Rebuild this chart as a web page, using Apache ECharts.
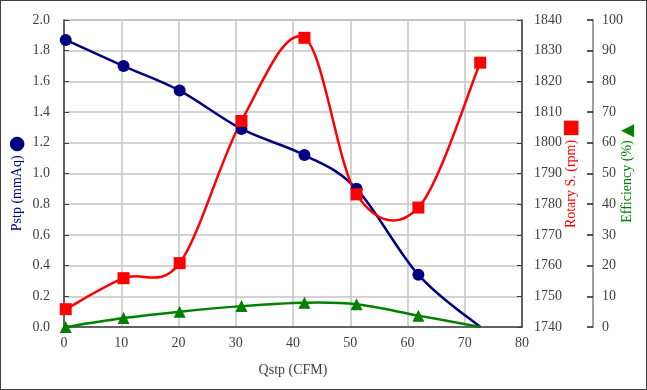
<!DOCTYPE html>
<html><head><meta charset="utf-8">
<script src="https://cdn.jsdelivr.net/npm/echarts@6/dist/echarts.min.js"></script>
<style>
html,body{margin:0;padding:0;background:#fff}
#wrap{position:relative;width:647px;height:390px}
#chart{width:647px;height:390px}
#frame{position:absolute;left:0;top:0;width:647px;height:390px;box-sizing:border-box;border:1px solid #404040;pointer-events:none}
</style>
</head><body>
<div id="wrap"><div id="chart"></div><div id="frame"></div></div>
<script>
// Data
const flowCFM    = [0.3, 10.4, 20.2, 31.0, 42.0, 51.1, 61.9, 72.7];
const pstp       = [1.87, 1.70, 1.54, 1.29, 1.12, 0.90, 0.34, 0.00];
const rpm        = [1745.8, 1755.9, 1760.8, 1807.1, 1834.2, 1783.2, 1778.9, 1826.1];
const efficiency = [0.0, 2.9, 5.0, 6.8, 7.9, 7.4, 3.7, 0.0];
const showMarker = {
  pstp: [true, true, true, true, true, true, true, false],
  rpm: [true, true, true, true, true, true, true, true],
  eff: [true, true, true, true, true, true, true, false]
};

const FONT = '"Liberation Serif", "Times New Roman", serif';
const LABEL = '#404040';
const NAVY = '#000080', RED = '#ff0000', GREEN = '#008000';

// Excel-like smoothed line (Catmull-Rom bezier), in pixel space via the chart's own axes
function curveSeries(ys, yIdx, color) {
  return {
    type: 'custom', yAxisIndex: yIdx, silent: true, z: 2,
    data: flowCFM.map((x, i) => [x, ys[i]]),
    renderItem: function (params, api) {
      if (params.dataIndex !== 0) return null;
      const p = flowCFM.map((x, i) => api.coord([x, ys[i]]));
      const children = [];
      for (let i = 0; i < p.length - 1; i++) {
        const p0 = p[i - 1] || p[i], p1 = p[i], p2 = p[i + 1], p3 = p[i + 2] || p[i + 1];
        children.push({
          type: 'bezierCurve',
          shape: {
            x1: p1[0], y1: p1[1],
            cpx1: p1[0] + (p2[0] - p0[0]) / 6, cpy1: p1[1] + (p2[1] - p0[1]) / 6,
            cpx2: p2[0] - (p3[0] - p1[0]) / 6, cpy2: p2[1] - (p3[1] - p1[1]) / 6,
            x2: p2[0], y2: p2[1]
          },
          style: { fill: 'none', stroke: color, lineWidth: 2.5 }
        });
      }
      return { type: 'group', children: children };
    }
  };
}
function markerSeries(ys, yIdx, color, symbol, size, flags) {
  return {
    type: 'scatter', yAxisIndex: yIdx, silent: true, z: 3,
    symbol: symbol, symbolSize: size,
    itemStyle: { color: color, opacity: 1 },
    data: flowCFM.map((x, i) => flags[i] ? [x, ys[i]] : { value: [x, ys[i]], symbol: 'none' })
  };
}

const chart = echarts.init(document.getElementById('chart'), null, { renderer: 'canvas' });
chart.setOption({
  animation: false,
  backgroundColor: '#ffffff',
  textStyle: { fontFamily: FONT },
  grid: { left: 64, right: 125, top: 20, bottom: 63, show: true, borderColor: '#909090', borderWidth: 1,
          containLabel: false, outerBoundsMode: 'none' },
  xAxis: {
    type: 'value', min: 0, max: 80, interval: 10,
    axisLine: { show: true, lineStyle: { color: LABEL, width: 1.5 } },
    axisTick: { show: false },
    axisLabel: { fontSize: 14, color: LABEL, margin: 9, fontFamily: FONT },
    splitLine: { show: true, lineStyle: { color: '#c4c4c4', width: 1.5 } },
    name: 'Qstp (CFM)', nameLocation: 'middle', nameGap: 36, nameMoveOverlap: false,
    nameTextStyle: { fontSize: 14, color: LABEL, fontFamily: FONT }
  },
  yAxis: [
    {
      type: 'value', position: 'left', min: 0, max: 2, interval: 0.2,
      axisLine: { show: true, lineStyle: { color: LABEL, width: 1.5 } },
      axisTick: { show: true, inside: true, length: 5, lineStyle: { color: LABEL } },
      axisLabel: { fontSize: 14, color: LABEL, margin: 14, fontFamily: FONT, formatter: v => v.toFixed(1) },
      splitLine: { show: true, lineStyle: { color: '#c4c4c4', width: 1.5 } },
      name: '{t|Pstp (mmAq)} {c|●}', nameLocation: 'middle', nameRotate: 90, nameGap: 37, nameMoveOverlap: false,
      nameTextStyle: {
        padding: [0, 20, 0, 0],
        rich: {
          t: { fontSize: 14, color: NAVY, fontFamily: FONT },
          c: { fontSize: 19, color: NAVY, fontFamily: '"DejaVu Sans"' }
        }
      }
    },
    {
      type: 'value', position: 'right', min: 1740, max: 1840, interval: 10,
      axisLine: { show: true, lineStyle: { color: LABEL, width: 1.5 } },
      axisTick: { show: true, inside: true, length: 5, lineStyle: { color: LABEL } },
      axisLabel: { fontSize: 14, color: LABEL, margin: 12, fontFamily: FONT, formatter: v => String(v) },
      splitLine: { show: false },
      name: '{t|Rotary S. (rpm)} {c|■}', nameLocation: 'middle', nameRotate: 90, nameGap: 40, nameMoveOverlap: false,
      nameTextStyle: {
        rich: {
          t: { fontSize: 14, color: RED, fontFamily: FONT },
          c: { fontSize: 19, color: RED, fontFamily: '"DejaVu Sans"' }
        }
      }
    },
    {
      type: 'value', position: 'right', offset: 71, min: 0, max: 100, interval: 10,
      axisLine: { show: true, lineStyle: { color: '#808080', width: 1.5 } },
      axisTick: { show: true, inside: true, length: 6, lineStyle: { color: '#202020', width: 1.5 } },
      axisLabel: { fontSize: 14, color: LABEL, margin: 9, fontFamily: FONT, formatter: v => String(v) },
      splitLine: { show: false },
      name: '{t|Efficiency (%)} {c|▲}', nameLocation: 'middle', nameRotate: 90, nameGap: 26, nameMoveOverlap: false,
      nameTextStyle: {
        rich: {
          t: { fontSize: 14, color: GREEN, fontFamily: FONT },
          c: { fontSize: 17, color: GREEN, fontFamily: '"DejaVu Sans"' }
        }
      }
    }
  ],
  series: [
    curveSeries(pstp, 0, NAVY),
    markerSeries(pstp, 0, NAVY, 'circle', 12, showMarker.pstp),
    curveSeries(rpm, 1, RED),
    markerSeries(rpm, 1, RED, 'rect', 12, showMarker.rpm),
    curveSeries(efficiency, 2, GREEN),
    markerSeries(efficiency, 2, GREEN, 'triangle', 12, showMarker.eff)
  ]
});
</script>
</body></html>
